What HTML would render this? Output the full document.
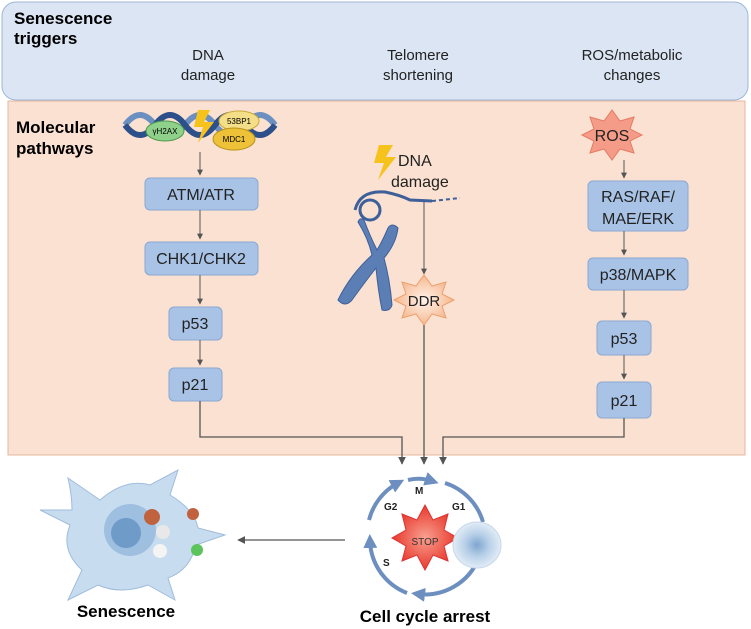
<!DOCTYPE html>
<html><head><meta charset="utf-8"><style>
body{margin:0;background:#fff;}
svg{display:block;font-family:"Liberation Sans",Arial,sans-serif;}
</style></head><body>
<svg width="751" height="629" viewBox="0 0 751 629">
<defs>
<marker id="ah" viewBox="0 0 10 10" refX="9" refY="5" markerWidth="6" markerHeight="6" orient="auto"><path d="M0,0 L10,5 L0,10 z" fill="#555"/></marker>
<marker id="bh" viewBox="0 0 10 10" refX="5" refY="5" markerWidth="3.5" markerHeight="3.5" orient="auto"><path d="M0,0 L10,5 L0,10 z" fill="#6d8fbf"/></marker>
<radialGradient id="cellg" cx="50%" cy="50%" r="50%"><stop offset="0" stop-color="#7fa6d0"/><stop offset="0.5" stop-color="#b8d0e8"/><stop offset="1" stop-color="#e2ecf6"/></radialGradient>
<radialGradient id="stopg" cx="50%" cy="50%" r="50%"><stop offset="0" stop-color="#f8a090"/><stop offset="1" stop-color="#e8382c"/></radialGradient>
<radialGradient id="ddrg" cx="50%" cy="50%" r="50%"><stop offset="0" stop-color="#fff3ea"/><stop offset="1" stop-color="#f6b890"/></radialGradient>
</defs>
<rect x="2" y="2" width="746" height="98" rx="14" fill="#dbe5f4" stroke="#9fb6d6"/>
<text x="14" y="24" font-size="17" font-weight="bold"><tspan x="14">Senescence</tspan><tspan x="14" dy="20">triggers</tspan></text>
<text font-size="15" text-anchor="middle" fill="#222"><tspan x="208" y="60">DNA</tspan><tspan x="208" dy="20">damage</tspan></text>
<text font-size="15" text-anchor="middle" fill="#222"><tspan x="418" y="60">Telomere</tspan><tspan x="418" dy="20">shortening</tspan></text>
<text font-size="15" text-anchor="middle" fill="#222"><tspan x="632" y="60">ROS/metabolic</tspan><tspan x="632" dy="20">changes</tspan></text>

<rect x="8" y="101" width="737" height="354" fill="#fbe1d1" stroke="#e6b89e"/>
<text font-size="17" font-weight="bold"><tspan x="16" y="133">Molecular</tspan><tspan x="16" dy="21">pathways</tspan></text>

<g>
<path d="M125,125 Q140,105 155,125 T185,125 T215,125 T245,125 T275,125" fill="none" stroke="#6b8fc0" stroke-width="6"/>
<path d="M125,125 Q140,145 155,125 T185,125 T215,125 T245,125 T275,125" fill="none" stroke="#2d4f8a" stroke-width="6"/>
<ellipse cx="165" cy="131" rx="19" ry="10" fill="#8fd08a" stroke="#4a9a4a"/>
<text x="165" y="134" font-size="8" text-anchor="middle">γH2AX</text>
<path d="M198,110 L210,110 L204,122 L214,122 L198,143 L203,127 L194,127 z" fill="#f6c21c"/>
<ellipse cx="239" cy="121" rx="20" ry="10" fill="#f4df88" stroke="#c9a93a"/>
<text x="239" y="124" font-size="8" text-anchor="middle">53BP1</text>
<ellipse cx="234" cy="139" rx="21" ry="11" fill="#edc238" stroke="#b8921a"/>
<text x="234" y="142" font-size="8" text-anchor="middle">MDC1</text>
</g>

<g font-size="16" text-anchor="middle" fill="#222">
<line x1="200" y1="152" x2="200" y2="175" stroke="#555" marker-end="url(#ah)"/>
<rect x="145" y="178" width="113" height="32" rx="5" fill="#a9c3e6" stroke="#8aa8d2"/><text x="201" y="200">ATM/ATR</text>
<line x1="200" y1="210" x2="200" y2="239" stroke="#555" marker-end="url(#ah)"/>
<rect x="145" y="242" width="113" height="33" rx="5" fill="#a9c3e6" stroke="#8aa8d2"/><text x="201" y="264">CHK1/CHK2</text>
<line x1="200" y1="275" x2="200" y2="304" stroke="#555" marker-end="url(#ah)"/>
<rect x="169" y="307" width="53" height="33" rx="5" fill="#a9c3e6" stroke="#8aa8d2"/><text x="195" y="329">p53</text>
<line x1="200" y1="340" x2="200" y2="365" stroke="#555" marker-end="url(#ah)"/>
<rect x="169" y="368" width="53" height="33" rx="5" fill="#a9c3e6" stroke="#8aa8d2"/><text x="195" y="390">p21</text>

<polygon points="612,110 620,121 634,117 630,129 642,135 630,141 634,153 620,149 612,160 604,149 590,153 594,141 582,135 594,129 590,117 604,121" fill="#f59c88" stroke="#e57a63"/>
<text x="612" y="141">ROS</text>
<line x1="624" y1="160" x2="624" y2="178" stroke="#555" marker-end="url(#ah)"/>
<rect x="588" y="181" width="100" height="50" rx="5" fill="#a9c3e6" stroke="#8aa8d2"/><text x="638" y="202">RAS/RAF/</text><text x="638" y="224">MAE/ERK</text>
<line x1="624" y1="231" x2="624" y2="255" stroke="#555" marker-end="url(#ah)"/>
<rect x="588" y="258" width="100" height="32" rx="5" fill="#a9c3e6" stroke="#8aa8d2"/><text x="638" y="280">p38/MAPK</text>
<line x1="624" y1="290" x2="624" y2="318" stroke="#555" marker-end="url(#ah)"/>
<rect x="597" y="321" width="54" height="34" rx="5" fill="#a9c3e6" stroke="#8aa8d2"/><text x="624" y="344">p53</text>
<line x1="624" y1="355" x2="624" y2="379" stroke="#555" marker-end="url(#ah)"/>
<rect x="597" y="382" width="54" height="36" rx="5" fill="#a9c3e6" stroke="#8aa8d2"/><text x="624" y="406">p21</text>
</g>

<g>
<path d="M379,145 L393,145 L386,157 L396,157 L378,180 L384,163 L374,163 z" fill="#f6c21c"/>
<text x="398" y="166" font-size="16" fill="#222">DNA</text>
<text x="391" y="187" font-size="16" fill="#222">damage</text>
<path d="M355,210 Q360,190 385,192 Q400,195 410,200 L432,201" fill="none" stroke="#3d5f9a" stroke-width="3"/>
<path d="M432,201 L460,198" fill="none" stroke="#3d5f9a" stroke-width="2" stroke-dasharray="4 3"/>
<circle cx="370" cy="210" r="10" fill="none" stroke="#3d5f9a" stroke-width="3"/>
<path d="M358,222 Q368,238 372,255 Q350,275 338,300 Q345,308 352,300 Q365,282 376,268 Q378,290 382,310 Q390,312 392,305 Q390,280 384,258 Q396,244 398,228 Q392,222 388,228 Q382,242 377,250 Q370,236 364,220 Q360,217 358,222 z" fill="#5b7fb5" stroke="#3d5f9a"/>
</g>
<line x1="424" y1="202" x2="424" y2="274" stroke="#555" marker-end="url(#ah)"/>
<polygon points="424,275 432,286 446,282 442,294 454,300 442,306 446,318 432,314 424,325 416,314 402,318 406,306 394,300 406,294 402,282 416,286" fill="url(#ddrg)" stroke="#eaa06e"/>
<text x="424" y="306" font-size="15" text-anchor="middle" fill="#222">DDR</text>

<g stroke="#555" stroke-width="1.3" fill="none">
<polyline points="200,401 200,437 402,437 402,464" marker-end="url(#ah)"/>
<polyline points="424,325 424,464" marker-end="url(#ah)"/>
<polyline points="624,418 624,437 443,437 443,464" marker-end="url(#ah)"/>
<line x1="345" y1="540" x2="238" y2="540" marker-end="url(#ah)"/>
</g>

<g stroke="#6d8fbf" stroke-width="4" fill="none">
<path d="M408,480 Q420,477 432,481" marker-end="url(#bh)"/>
<path d="M445,483 A58,58 0 0 1 483,522"/>
<path d="M478,560 A58,58 0 0 1 418,594" marker-end="url(#bh)"/>
<path d="M407,593 A58,58 0 0 1 370,541" marker-end="url(#bh)"/>
<path d="M369,520 A58,58 0 0 1 398,483" marker-end="url(#bh)"/>
</g>
<g font-size="10" font-weight="bold" fill="#222">
<text x="415" y="494">M</text><text x="384" y="510">G2</text><text x="452" y="510">G1</text><text x="383" y="566">S</text>
</g>
<polygon points="425,505 433,520 448,514 444,530 458,538 444,546 448,561 433,555 425,570 417,555 402,561 406,546 392,538 406,530 402,514 417,520" fill="url(#stopg)" stroke="#d33"/>
<text x="425" y="545" font-size="10" text-anchor="middle" fill="#333">STOP</text>
<ellipse cx="477" cy="545" rx="24" ry="23" fill="url(#cellg)" stroke="#c7d8ea"/>
<text x="425" y="622" font-size="17" font-weight="bold" text-anchor="middle">Cell cycle arrest</text>

<g>
<path d="M68,478 L100,500 Q125,478 150,485 L178,470 L170,495 Q195,510 198,528 L225,535 L196,545 Q190,570 168,578 L175,600 L148,585 Q120,595 98,585 L68,600 L82,570 Q60,550 70,525 L40,510 L72,510 Q72,495 68,478 z" fill="#c8dcef" stroke="#9fbcdc"/>
<circle cx="130" cy="530" r="26" fill="#9ebfe0"/>
<circle cx="126" cy="533" r="15" fill="#6f9bc9"/>
<circle cx="152" cy="517" r="8" fill="#c0623e"/>
<circle cx="163" cy="532" r="7" fill="#e8e8e8"/>
<circle cx="193" cy="514" r="6" fill="#c0623e"/>
<circle cx="160" cy="551" r="7" fill="#f4f4f4"/>
<circle cx="197" cy="550" r="6" fill="#5cc45c"/>
</g>
<text x="126" y="617" font-size="17" font-weight="bold" text-anchor="middle">Senescence</text>
</svg>
</body></html>
